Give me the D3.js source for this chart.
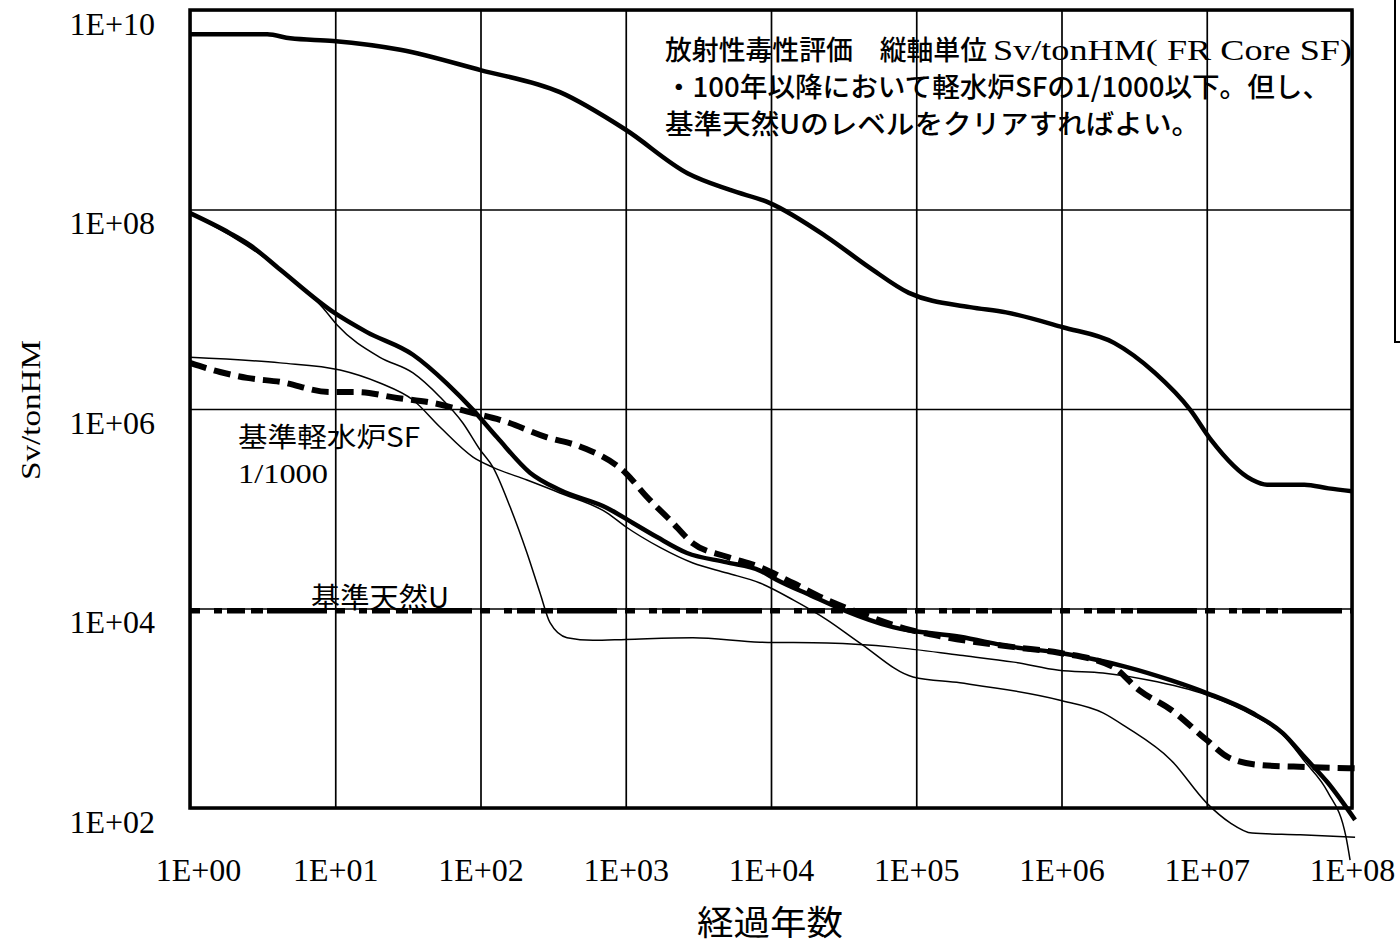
<!DOCTYPE html>
<html>
<head>
<meta charset="utf-8">
<script src="https://cdn.jsdelivr.net/npm/d3@7"></script>
<style>
  html, body { margin: 0; padding: 0; background: #fff; }
  svg { display: block; }
</style>
</head>
<body>
<div id="chart"></div>
<script>
// ticks
const xTicks = [1, 1e1, 1e2, 1e3, 1e4, 1e5, 1e6, 1e7, 1e8];
const xTickLabels = ["1E+00", "1E+01", "1E+02", "1E+03", "1E+04", "1E+05", "1E+06", "1E+07", "1E+08"];
const yTicks = [1e2, 1e4, 1e6, 1e8, 1e10];
const yTickLabels = ["1E+02", "1E+04", "1E+06", "1E+08", "1E+10"];

// series, [years, Sv/tonHM]
const frCoreSF = [[1,5.7e9],[3.4,5.7e9],[4.9,5.2e9],[9.7,4.9e9],[28,4.0e9],[100,2.5e9],[352,1.5e9],
  [1000,6.3e8],[2680,2.3e8],[5220,1.57e8],[9840,1.16e8],[2.43e4,5.3e7],[4.8e4,2.6e7],[8.9e4,1.46e7],
  [2.34e5,1.05e7],[4.15e5,9.3e6],[1.02e6,6.6e6],[2.3e6,4.6e6],[4.4e6,2.3e6],[7.7e6,9.8e5],[1.07e7,4.9e5],
  [2.05e7,1.95e5],[2.6e7,1.74e5],[4.7e7,1.74e5],[6.9e7,1.6e5],[1e8,1.5e5]];

const caseB = [[1,9.2e7],[1.88,5.8e7],[2.59,4.4e7],[4.17,2.5e7],[9.65,9.4e6],[16.5,5.9e6],[34.3,3.5e6],
  [58.8,1.8e6],[88.8,9.8e5],[130,5.2e5],[219,2.3e5],[352,1.54e5],[743,1.02e5],[1120,7.2e4],[1640,5.2e4],
  [2640,3.6e4],[4980,2.9e4],[8390,2.4e4],[1.1e4,1.93e4],[1.86e4,1.36e4],[3.13e4,9.7e3],[6.92e4,6.5e3],
  [2.0e5,5.2e3],[4.7e5,4.1e3],[9.6e5,3.6e3],[2.78e6,2.6e3],[5.7e6,1.9e3],[1.0e7,1.42e3],[2.05e7,900],
  [3.35e7,560],[4.75e7,320],[6.8e7,180],[1.05e8,76]];

const caseD = [[1,9.2e7],[4.17,2.5e7],[8.24,1.03e7],[10.3,6.95e6],[20.3,3.3e6],[34.3,2.3e6],[52.6,1.32e6],
  [75.8,7.2e5],[99.3,3.9e5],[122,2.6e5],[160,1.04e5],[209,3.6e4],[257,1.43e4],[301,7.2e3],[394,5.1e3],
  [595,4.8e3],[1000,4.9e3],[2900,5.1e3],[8400,4.6e3],[2.43e4,4.5e3],[6.92e4,4.1e3],[2.0e5,3.4e3],
  [4.7e5,2.9e3],[9.6e5,2.4e3],[1.93e6,2.25e3],[3.94e6,1.92e3],[1.0e7,1.36e3],[2.05e7,860],[3.35e7,540],
  [4.75e7,290],[6.8e7,145],[9.1e7,51],[9.7e7,30]];

const caseE = [[1,3.3e6],[4.17,2.9e6],[10.8,2.46e6],[20.3,1.82e6],[34.3,1.23e6],[52.6,6.6e5],[88.8,3.3e5],
  [122,2.6e5],[209,1.94e5],[352,1.44e5],[743,9.1e4],[1000,6.6e4],[1720,4.1e4],[2900,2.86e4],[4980,2.27e4],
  [8390,1.8e4],[1.42e4,1.22e4],[2.43e4,7.7e3],[4.1e4,4.5e3],[9.5e4,2.06e3],[2.0e5,1.8e3],[9.6e5,1.21e3],
  [1.93e6,900],[2.78e6,650],[5.7e6,300],[1.0e7,112],[1.45e7,71],[2.05e7,56],[4.4e7,54],[1.05e8,51]];

const lwrSF1000 = [[1,2.9e6],[1.61,2.35e6],[2.47,2.05e6],[4.17,1.87e6],[9.2,1.48e6],[14.1,1.48e6],
  [26.6,1.29e6],[47.1,1.15e6],[88.8,9.1e5],[136,7.8e5],[287,5.2e5],[484,4.2e5],[1000,2.28e5],[1400,1.31e5],
  [2020,7.7e4],[2900,4.5e4],[4980,3.3e4],[8390,2.6e4],[1.42e4,1.8e4],[2.43e4,1.22e4],[4.1e4,9.0e3],
  [9.06e4,6.1e3],[1.53e5,5.2e3],[4.7e5,4.1e3],[9.6e5,3.6e3],[2.26e6,2.6e3],[3.42e6,1.52e3],[5.7e6,960],
  [1.0e7,480],[1.42e7,320],[2.33e7,270],[4.75e7,258],[1.05e8,250]];

const naturalU = [[1,9.5e3],[1e8,9.5e3]];

const W = 1400, H = 945;
const plot = { left: 190, right: 1352, top: 10, bottom: 808 };

const svg = d3.select("#chart").append("svg")
  .attr("width", W)
  .attr("height", H);

const x = d3.scaleLog().domain([1, 1e8]).range([plot.left, plot.right]);
const y = d3.scaleLog().domain([1e2, 1e10]).range([plot.bottom, plot.top]);

const serif = "'Liberation Serif', 'Times New Roman', serif";
const cjk = "'Noto Sans CJK JP', sans-serif";

// vertical grid + x labels
const xAxis = svg.append("g")
  .attr("transform", "translate(0," + plot.bottom + ")")
  .call(d3.axisBottom(x).tickValues(xTicks)
    .tickFormat((d, i) => xTickLabels[i])
    .tickSize(-(plot.bottom - plot.top))
    .tickPadding(50));
xAxis.select(".domain").remove();
xAxis.selectAll("line").attr("stroke", "#000").attr("stroke-width", 1.7);
xAxis.selectAll("text")
  .attr("font-family", serif).attr("font-size", 32).attr("fill", "#000")
  .attr("dx", (d, i) => i === 0 ? 8 : 0);

// horizontal grid + y labels
const yAxis = svg.append("g")
  .attr("transform", "translate(" + plot.left + ",0)")
  .call(d3.axisLeft(y).tickValues(yTicks)
    .tickFormat((d, i) => yTickLabels[i])
    .tickSize(-(plot.right - plot.left))
    .tickPadding(35));
yAxis.select(".domain").remove();
yAxis.selectAll("line").attr("stroke", "#000").attr("stroke-width", 1.7);
yAxis.selectAll("text")
  .attr("font-family", serif).attr("font-size", 32).attr("fill", "#000")
  .attr("dy", 24);

// plot border
svg.append("rect")
  .attr("x", plot.left).attr("y", plot.top)
  .attr("width", plot.right - plot.left)
  .attr("height", plot.bottom - plot.top)
  .attr("fill", "none").attr("stroke", "#000").attr("stroke-width", 3.5);

// cut-off box at right edge
svg.append("rect")
  .attr("x", 1395).attr("y", -5).attr("width", 30).attr("height", 347)
  .attr("fill", "none").attr("stroke", "#000").attr("stroke-width", 2);

const line = d3.line()
  .x(d => x(d[0]))
  .y(d => y(d[1]))
  .curve(d3.curveMonotoneX);

const series = [
  { data: naturalU, width: 5.5, dash: "10,14,8,5,18,6,12,4,60,8" },
  { data: caseE, width: 1.5 },
  { data: caseD, width: 1.5 },
  { data: lwrSF1000, width: 6, dash: "17,8" },
  { data: caseB, width: 4.5 },
  { data: frCoreSF, width: 4.5 }
];

svg.append("g").selectAll("path")
  .data(series)
  .enter().append("path")
  .attr("d", d => line(d.data))
  .attr("fill", "none")
  .attr("stroke", "#000")
  .attr("stroke-width", d => d.width)
  .attr("stroke-dasharray", d => d.dash || null)
  .attr("stroke-linejoin", "round");

// annotations
function label(txt, xx, yy, size, family, len, weight) {
  svg.append("text")
    .attr("x", xx).attr("y", yy)
    .attr("font-family", family).attr("font-size", size)
    .attr("font-weight", weight || 400)
    .attr("fill", "#000")
    .attr("textLength", len)
    .attr("lengthAdjust", "spacingAndGlyphs")
    .text(txt);
}

label("放射性毒性評価　縦軸単位", 665, 60, 27, cjk, 322, 500);
label("Sv/tonHM( FR Core SF)", 993, 60, 30, serif, 359);
label("・100年以降において軽水炉SFの1/1000以下。但し、", 665, 97, 27, cjk, 665, 500);
label("基準天然Uのレベルをクリアすればよい。", 665, 134, 27, cjk, 535, 500);

label("基準軽水炉SF", 238, 447, 27, cjk, 182);
label("1/1000", 238, 483, 28, serif, 90);
label("基準天然U", 311, 608, 28, cjk, 138);

// axis titles
svg.append("text")
  .attr("transform", "translate(40,410) rotate(-90)")
  .attr("text-anchor", "middle")
  .attr("font-family", serif)
  .attr("font-size", 28)
  .attr("fill", "#000")
  .attr("textLength", 140)
  .attr("lengthAdjust", "spacingAndGlyphs")
  .text("Sv/tonHM");

svg.append("text")
  .attr("x", 697).attr("y", 935)
  .attr("font-family", cjk).attr("font-size", 34)
  .attr("fill", "#000")
  .attr("textLength", 146)
  .attr("lengthAdjust", "spacingAndGlyphs")
  .text("経過年数");
</script>
</body>
</html>
